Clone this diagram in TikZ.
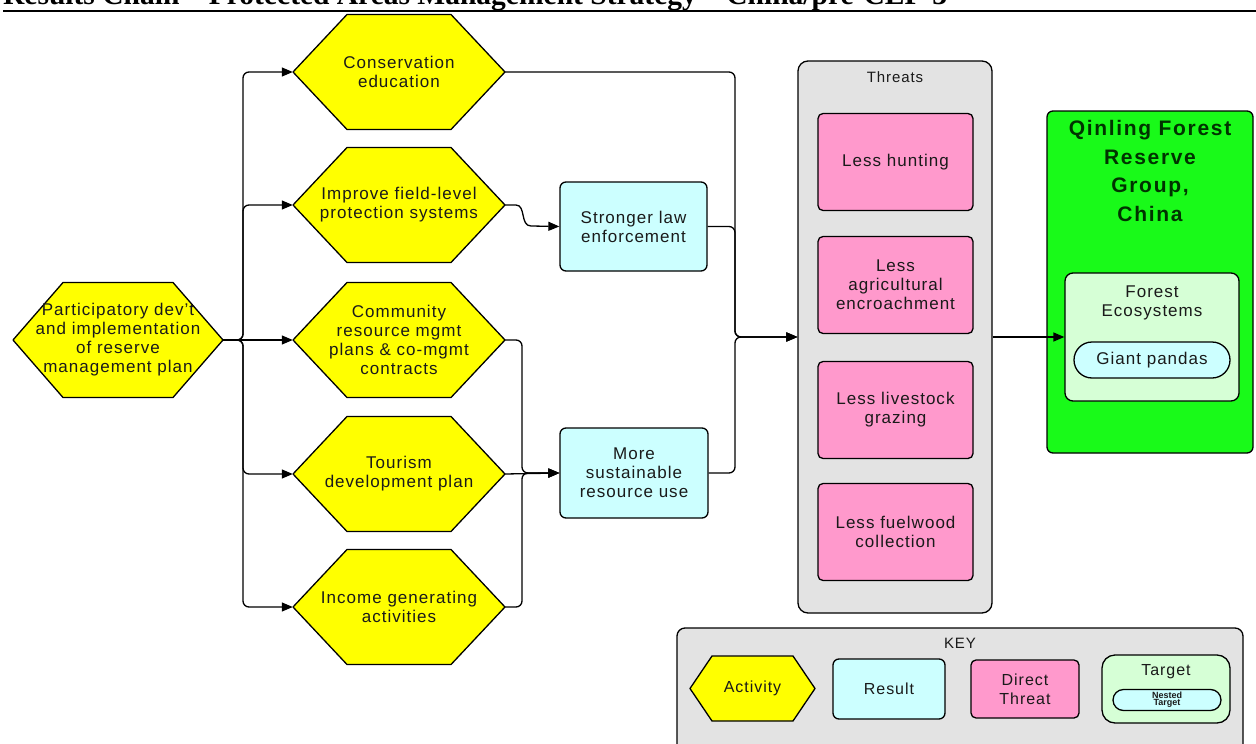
\documentclass[tikz,border=0pt]{standalone}
\usepackage{fontspec}
\setmainfont{Liberation Sans}[LetterSpace=6]
\newfontfamily\titlefont{Liberation Serif}
\newfontfamily\plainsans{Liberation Sans}
\usetikzlibrary{arrows.meta}
\definecolor{hexyellow}{HTML}{FFFF00}
\definecolor{rescyan}{HTML}{CCFFFF}
\definecolor{thrpink}{HTML}{FF99CC}
\definecolor{thrgray}{HTML}{E3E3E3}
\definecolor{tgtgreen}{HTML}{19FA19}
\definecolor{tgtlight}{HTML}{D6FFD6}
\definecolor{tgtdark}{HTML}{003300}
\definecolor{txtdark}{HTML}{1A1A1A}
\tikzset{
  hexshape/.style={draw=black, fill=hexyellow, line width=1.3pt, line join=round},
  txt/.style={font=\fontsize{17}{19}\selectfont, align=center, inner sep=0pt, text=txtdark},
  conn/.style={draw=black, line width=1.3pt, rounded corners=6pt},
  arr/.style={conn, -{Triangle[length=11pt,width=9pt]}},
  resbox/.style={txt, draw=black, fill=rescyan, rounded corners=6pt, line width=1.3pt},
  thrbox/.style={txt, draw=black, fill=thrpink, rounded corners=5pt, line width=1.3pt, minimum width=155, minimum height=97},
  grpbox/.style={draw=black, rounded corners=8pt, line width=1.3pt},
}
\newcommand\hexat[7]{%
  \draw[hexshape] (#2-#4,#3) -- (#2-#4+#6,#3-#5) -- (#2+#4-#6,#3-#5) -- (#2+#4,#3)
     -- (#2+#4-#6,#3+#5) -- (#2-#4+#6,#3+#5) -- cycle;
  \node[txt, minimum width=2*#4, minimum height=2*#5] (#1) at (#2,#3) {#7};}
\begin{document}
\begin{tikzpicture}[x=1pt,y=-1pt]
\useasboundingbox (0,0) rectangle (1256,744);
\fill[white] (0,0) rectangle (1256,744);
% title (cut off by the top edge, as in the reference)
\node[anchor=base west, inner sep=0pt, font=\titlefont\bfseries\fontsize{29.5}{29.5}\selectfont] (title) at (3,5) {Results Chain – Protected Areas Management Strategy – China/pre-CEP-3};
\draw[line width=2pt] (3,10.5) -- (1256,10.5);

% activities
\hexat{main}{118}{340}{105}{57.5}{50}{Participatory dev't\\and implementation\\of reserve\\management plan}
\hexat{cons}{399}{72}{106}{57.5}{54}{Conservation\\education}
\hexat{impr}{399}{205}{106}{57.5}{54}{Improve field-level\\protection systems}
\hexat{comm}{399}{340}{106}{57.5}{54}{Community\\resource mgmt\\plans \& co-mgmt\\contracts}
\hexat{tour}{399}{474}{106}{57.5}{54}{Tourism\\development plan}
\hexat{inc}{399}{607}{106}{57.5}{54}{Income generating\\activities}

% results
\node[resbox, minimum width=147, minimum height=89] (law) at (633.5,226.5) {Stronger law\\enforcement};
\node[resbox, minimum width=148, minimum height=90] (sust) at (634,473) {More\\sustainable\\resource use};

% threats group
\node[grpbox, fill=thrgray, minimum width=194, minimum height=552, rounded corners=10pt] (threats) at (895,337) {};
\node[txt, font=\fontsize{15}{17}\selectfont] (thrlbl) at (895,77) {Threats};
\node[thrbox] (hunt) at (895.5,162) {Less hunting};
\node[thrbox] (agri) at (895.5,285) {Less\\agricultural\\encroachment};
\node[thrbox] (live) at (895.5,410) {Less livestock\\grazing};
\node[thrbox] (fuel) at (895.5,532) {Less fuelwood\\collection};

% target
\node[grpbox, fill=tgtgreen, minimum width=206, minimum height=342, rounded corners=6pt] (site) at (1150,282) {};
\node[txt, text=tgtdark, font=\bfseries\fontsize{21}{28.7}\selectfont\addfontfeature{LetterSpace=8}] (sitelbl) at (1150,171) {Qinling Forest\\Reserve\\Group,\\China};
\node[grpbox, fill=tgtlight, minimum width=174, minimum height=128] (forest) at (1152,337) {};
\node[txt] (forestlbl) at (1152,303) {Forest\\Ecosystems};
\node[resbox, minimum width=156, minimum height=36, rounded corners=18pt] (panda) at (1152,360) {Giant pandas};

% connectors: main plan to activities
\draw[arr] (main.east) -- (243,340) |- (cons.west);
\draw[arr] (main.east) -- (243,340) |- (impr.west);
\draw[arr] (main.east) -- (comm.west);
\draw[arr] (main.east) -- (243,340) |- (tour.west);
\draw[arr] (main.east) -- (243,340) |- (inc.west);

% activities to results
\draw[arr, rounded corners=0pt] (impr.east) -- (516,205) .. controls (526,205) and (520,226) .. (531,226) -- (law.west);
\draw[arr] (comm.east) -| (522,473) -- (sust.west);
\draw[arr] (tour.east) -- (sust.west);
\draw[arr] (inc.east) -| (522,473) -- (sust.west);

% to threats
\draw[arr] (cons.east) -| (735,337) -- (threats.west);
\draw[arr] (law.east) -| (735,337) -- (threats.west);
\draw[arr] (sust.east) -| (735,337) -- (threats.west);

% threats to target
\draw[arr] (threats.east) -- (forest.west);

% key
\node[grpbox, fill=thrgray, minimum width=566, minimum height=142, rounded corners=8pt] (keybox) at (960,699) {};
\node[txt, font=\fontsize{15}{17}\selectfont] (keylbl) at (960,643) {KEY};
\hexat{kact}{752.5}{688.5}{62.5}{32.5}{22}{\fontsize{16}{18}\selectfont Activity}
\node[resbox, minimum width=112, minimum height=60, font=\fontsize{16}{18}\selectfont] (kres) at (889,689) {Result};
\node[thrbox, minimum width=108, minimum height=58, font=\fontsize{16}{19}\selectfont] (kthr) at (1025,689) {Direct\\Threat};
\node[grpbox, fill=tgtlight, minimum width=128, minimum height=68, rounded corners=13pt] (ktgt) at (1166,689) {};
\node[txt, font=\fontsize{16}{18}\selectfont] (ktgtlbl) at (1166,672) {Target};
\node[resbox, minimum width=108, minimum height=21, rounded corners=10.5pt, font=\plainsans\bfseries\fontsize{9}{7}\selectfont] (knest) at (1167,700) {Nested\\Target};
\end{tikzpicture}
\end{document}
